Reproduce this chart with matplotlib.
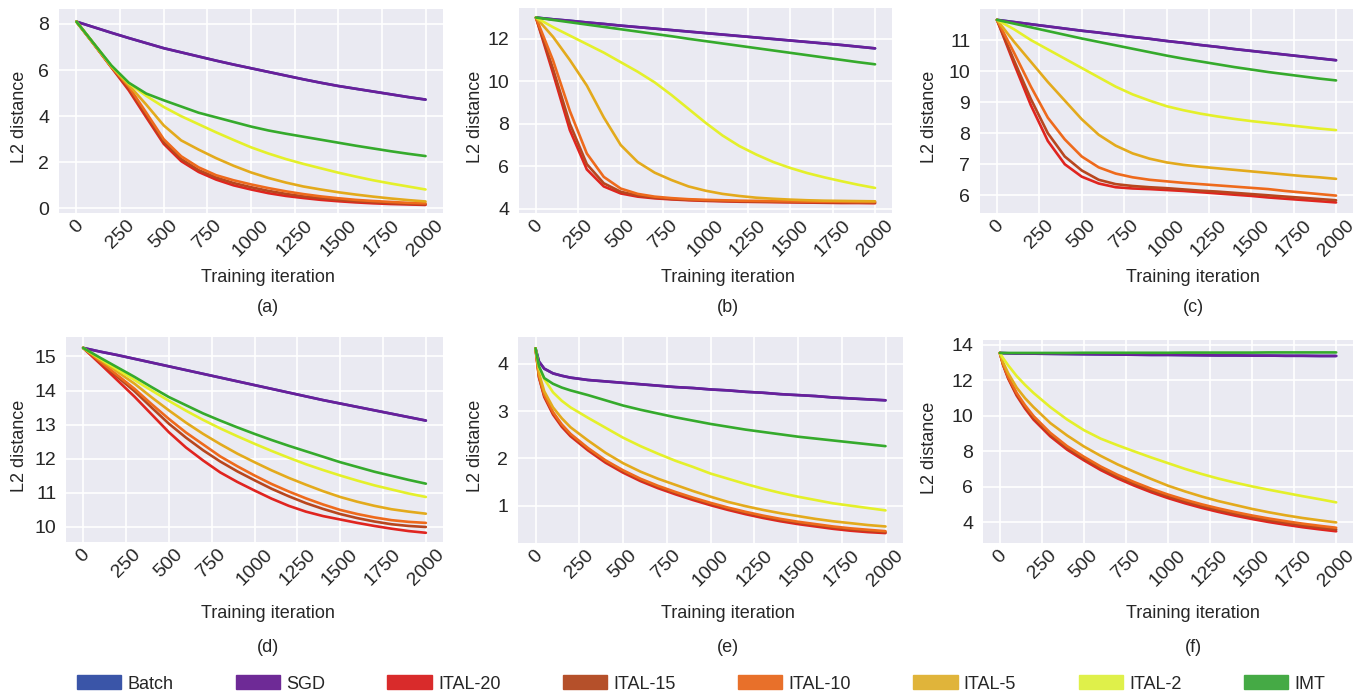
import matplotlib
matplotlib.use("Agg")
import matplotlib.pyplot as plt
from matplotlib.patches import Patch

# iteration grids (coarse for smooth panels, denser start for the fast-dropping ones)
iters = [0, 100, 200, 300, 400, 500, 600, 700, 800, 900, 1000,
         1100, 1200, 1300, 1400, 1500, 1600, 1700, 1800, 1900, 2000]
iters_fast = [0, 20, 50, 100, 150, 200, 300, 400, 500, 600, 700, 800,
              900, 1000, 1100, 1200, 1300, 1400, 1500, 1600, 1700, 1800, 1900, 2000]

labels = ["Batch", "SGD", "ITAL-20", "ITAL-15", "ITAL-10", "ITAL-5", "ITAL-2", "IMT"]
line_colors = ["#3a55a8", "#6a1f9a", "#e0241f", "#b8461e", "#ee6a1c", "#e3aa1c", "#e4f02a", "#35aa2c"]
legend_colors = ["#3a55a8", "#6e2a96", "#d92b2b", "#b5502a", "#e8702a", "#e0b43a", "#dff04a", "#45aa45"]

# (a)
a_sgd = [8.10, 7.86, 7.62, 7.39, 7.17, 6.95, 6.77, 6.59, 6.41, 6.24, 6.08,
         5.92, 5.76, 5.60, 5.45, 5.31, 5.19, 5.07, 4.95, 4.83, 4.72]
a_i20 = [8.10, 7.12, 6.12, 5.12, 3.95, 2.80, 2.05, 1.58, 1.25, 1.00, 0.82,
         0.66, 0.54, 0.45, 0.37, 0.31, 0.26, 0.22, 0.19, 0.17, 0.15]
a_i15 = [8.10, 7.12, 6.13, 5.20, 4.05, 2.88, 2.14, 1.66, 1.34, 1.10, 0.92,
         0.76, 0.63, 0.52, 0.44, 0.37, 0.31, 0.27, 0.23, 0.20, 0.18]
a_i10 = [8.10, 7.13, 6.14, 5.28, 4.15, 3.00, 2.26, 1.78, 1.44, 1.22, 1.04,
         0.88, 0.74, 0.62, 0.52, 0.44, 0.37, 0.32, 0.28, 0.24, 0.22]
a_i5 = [8.10, 7.13, 6.16, 5.35, 4.50, 3.60, 2.95, 2.55, 2.18, 1.85, 1.56,
        1.32, 1.12, 0.95, 0.82, 0.70, 0.60, 0.51, 0.43, 0.36, 0.30]
a_i2 = [8.10, 7.14, 6.18, 5.42, 4.88, 4.40, 4.00, 3.65, 3.30, 2.97, 2.65,
        2.38, 2.14, 1.93, 1.74, 1.55, 1.38, 1.22, 1.08, 0.95, 0.82]
a_imt = [8.10, 7.15, 6.20, 5.45, 4.98, 4.69, 4.42, 4.15, 3.95, 3.75, 3.55,
         3.38, 3.24, 3.11, 2.98, 2.85, 2.72, 2.60, 2.48, 2.37, 2.27]

# (b)
b_sgd = [13.00, 12.92, 12.85, 12.77, 12.70, 12.62, 12.55, 12.48, 12.41, 12.34, 12.27,
         12.20, 12.13, 12.06, 11.99, 11.92, 11.85, 11.78, 11.71, 11.63, 11.55]
b_i20 = [13.00, 10.40, 7.70, 5.85, 5.05, 4.72, 4.57, 4.49, 4.44, 4.40, 4.37,
         4.35, 4.33, 4.32, 4.31, 4.30, 4.29, 4.28, 4.27, 4.27, 4.26]
b_i15 = [13.00, 10.60, 8.00, 6.10, 5.20, 4.80, 4.62, 4.52, 4.46, 4.42, 4.39,
         4.37, 4.35, 4.34, 4.33, 4.32, 4.31, 4.30, 4.30, 4.29, 4.29]
b_i10 = [13.00, 11.00, 8.60, 6.60, 5.50, 4.95, 4.70, 4.57, 4.50, 4.45, 4.42,
         4.40, 4.38, 4.37, 4.36, 4.35, 4.34, 4.33, 4.33, 4.32, 4.32]
b_i5 = [13.00, 12.10, 11.00, 9.80, 8.30, 7.00, 6.20, 5.70, 5.35, 5.05, 4.85,
        4.70, 4.60, 4.52, 4.47, 4.43, 4.40, 4.38, 4.37, 4.36, 4.35]
b_i2 = [13.00, 12.55, 12.15, 11.75, 11.35, 10.90, 10.45, 9.95, 9.35, 8.70, 8.05,
        7.45, 6.95, 6.55, 6.20, 5.92, 5.68, 5.48, 5.30, 5.13, 4.98]
b_imt = [13.00, 12.89, 12.78, 12.67, 12.56, 12.45, 12.34, 12.23, 12.12, 12.00, 11.89,
         11.78, 11.67, 11.56, 11.45, 11.34, 11.23, 11.12, 11.01, 10.90, 10.80]

# (c)
c_sgd = [11.65, 11.58, 11.51, 11.44, 11.37, 11.30, 11.24, 11.17, 11.10, 11.04, 10.97,
         10.91, 10.84, 10.78, 10.71, 10.65, 10.59, 10.53, 10.47, 10.41, 10.35]
c_i20 = [11.65, 10.25, 8.90, 7.75, 7.00, 6.60, 6.38, 6.26, 6.22, 6.20, 6.17,
         6.14, 6.10, 6.06, 6.02, 5.98, 5.93, 5.89, 5.85, 5.81, 5.77]
c_i15 = [11.65, 10.35, 9.10, 8.00, 7.25, 6.80, 6.50, 6.36, 6.30, 6.26, 6.23,
         6.19, 6.15, 6.12, 6.08, 6.04, 6.00, 5.96, 5.92, 5.88, 5.84]
c_i10 = [11.65, 10.60, 9.50, 8.50, 7.80, 7.25, 6.90, 6.70, 6.58, 6.50, 6.45,
         6.40, 6.36, 6.32, 6.28, 6.24, 6.20, 6.14, 6.09, 6.04, 5.99]
c_i5 = [11.65, 10.95, 10.30, 9.65, 9.05, 8.45, 7.95, 7.60, 7.35, 7.18, 7.06,
        6.98, 6.92, 6.87, 6.82, 6.77, 6.72, 6.67, 6.62, 6.58, 6.53]
c_i2 = [11.65, 11.35, 11.00, 10.70, 10.40, 10.10, 9.80, 9.50, 9.25, 9.05, 8.87,
        8.74, 8.63, 8.54, 8.46, 8.39, 8.33, 8.27, 8.21, 8.15, 8.10]
c_imt = [11.65, 11.53, 11.41, 11.29, 11.17, 11.05, 10.94, 10.83, 10.72, 10.61, 10.50,
         10.40, 10.31, 10.22, 10.13, 10.05, 9.97, 9.90, 9.83, 9.76, 9.70]

# (d)
d_sgd = [15.25, 15.14, 15.04, 14.93, 14.82, 14.71, 14.60, 14.49, 14.38, 14.27, 14.16,
         14.05, 13.94, 13.83, 13.72, 13.62, 13.52, 13.42, 13.32, 13.22, 13.12]
d_i20 = [15.25, 14.78, 14.30, 13.82, 13.30, 12.78, 12.33, 11.95, 11.60, 11.32, 11.07,
         10.83, 10.62, 10.45, 10.32, 10.22, 10.12, 10.03, 9.95, 9.88, 9.83]
d_i15 = [15.25, 14.83, 14.40, 13.98, 13.50, 13.03, 12.62, 12.25, 11.92, 11.63, 11.37,
         11.12, 10.90, 10.70, 10.53, 10.38, 10.26, 10.16, 10.08, 10.03, 10.00]
d_i10 = [15.25, 14.85, 14.45, 14.05, 13.60, 13.17, 12.77, 12.42, 12.07, 11.78, 11.51,
         11.26, 11.04, 10.84, 10.66, 10.50, 10.38, 10.28, 10.20, 10.15, 10.12]
d_i5 = [15.25, 14.90, 14.55, 14.20, 13.80, 13.42, 13.06, 12.73, 12.43, 12.15, 11.90,
        11.66, 11.44, 11.24, 11.05, 10.88, 10.74, 10.62, 10.52, 10.45, 10.39]
d_i2 = [15.25, 14.93, 14.62, 14.31, 14.00, 13.70, 13.41, 13.14, 12.89, 12.66, 12.44,
        12.23, 12.03, 11.84, 11.67, 11.51, 11.36, 11.22, 11.10, 10.98, 10.88]
d_imt = [15.25, 14.96, 14.68, 14.40, 14.10, 13.81, 13.57, 13.33, 13.12, 12.92, 12.73,
         12.55, 12.38, 12.22, 12.06, 11.90, 11.76, 11.62, 11.50, 11.38, 11.27]

# (e)  -- on iters_fast
e_sgd = [4.33, 4.05, 3.90, 3.80, 3.75, 3.71, 3.66, 3.63, 3.60, 3.57, 3.54, 3.51,
         3.49, 3.46, 3.44, 3.41, 3.39, 3.36, 3.34, 3.32, 3.29, 3.27, 3.25, 3.23]
e_i20 = [4.33, 3.71, 3.30, 2.93, 2.67, 2.47, 2.17, 1.91, 1.70, 1.52, 1.37, 1.24,
         1.12, 1.01, 0.91, 0.82, 0.74, 0.67, 0.61, 0.56, 0.51, 0.47, 0.44, 0.42]
e_i15 = [4.33, 3.73, 3.33, 2.96, 2.70, 2.50, 2.20, 1.94, 1.73, 1.55, 1.40, 1.27,
         1.15, 1.04, 0.94, 0.85, 0.77, 0.70, 0.64, 0.59, 0.54, 0.50, 0.47, 0.44]
e_i10 = [4.33, 3.75, 3.35, 2.98, 2.72, 2.52, 2.22, 1.96, 1.75, 1.57, 1.42, 1.29,
         1.17, 1.06, 0.96, 0.87, 0.79, 0.72, 0.66, 0.61, 0.56, 0.52, 0.49, 0.46]
e_i5 = [4.33, 3.80, 3.42, 3.08, 2.85, 2.66, 2.38, 2.12, 1.90, 1.72, 1.57, 1.44,
        1.31, 1.19, 1.08, 0.99, 0.91, 0.84, 0.78, 0.72, 0.67, 0.63, 0.59, 0.56]
e_i2 = [4.33, 3.92, 3.68, 3.40, 3.22, 3.08, 2.86, 2.65, 2.44, 2.26, 2.10, 1.95,
        1.82, 1.68, 1.57, 1.46, 1.36, 1.27, 1.19, 1.12, 1.05, 1.00, 0.95, 0.90]
e_imt = [4.33, 3.95, 3.70, 3.58, 3.50, 3.44, 3.34, 3.23, 3.12, 3.03, 2.95, 2.87,
         2.80, 2.73, 2.67, 2.61, 2.56, 2.51, 2.46, 2.42, 2.38, 2.34, 2.30, 2.26]

# (f)  -- on iters_fast
f_sgd = [13.55, 13.54, 13.53, 13.52, 13.52, 13.51, 13.50, 13.49, 13.48, 13.47, 13.46, 13.45,
         13.44, 13.44, 13.43, 13.42, 13.41, 13.41, 13.40, 13.40, 13.39, 13.39, 13.38, 13.38]
f_i20 = [13.55, 12.86, 12.10, 11.15, 10.42, 9.80, 8.85, 8.10, 7.50, 6.95, 6.48, 6.07,
         5.70, 5.37, 5.08, 4.82, 4.59, 4.38, 4.19, 4.02, 3.87, 3.73, 3.61, 3.50]
f_i15 = [13.55, 12.88, 12.15, 11.22, 10.50, 9.90, 8.95, 8.20, 7.60, 7.05, 6.58, 6.17,
         5.80, 5.47, 5.18, 4.92, 4.69, 4.48, 4.29, 4.12, 3.97, 3.83, 3.71, 3.60]
f_i10 = [13.55, 12.90, 12.20, 11.30, 10.60, 10.00, 9.05, 8.30, 7.70, 7.15, 6.68, 6.27,
         5.90, 5.57, 5.28, 5.02, 4.79, 4.58, 4.39, 4.22, 4.07, 3.93, 3.81, 3.70]
f_i5 = [13.55, 13.00, 12.40, 11.60, 11.00, 10.50, 9.60, 8.90, 8.28, 7.75, 7.27, 6.85,
        6.45, 6.07, 5.75, 5.46, 5.20, 4.98, 4.76, 4.57, 4.40, 4.25, 4.12, 4.00]
f_i2 = [13.55, 13.25, 12.85, 12.25, 11.75, 11.30, 10.50, 9.80, 9.20, 8.72, 8.35, 8.00,
        7.66, 7.34, 7.02, 6.73, 6.47, 6.24, 6.03, 5.84, 5.66, 5.48, 5.31, 5.13]
f_imt = [13.55, 13.55, 13.55, 13.55, 13.55, 13.55, 13.55, 13.55, 13.56, 13.56, 13.56, 13.56,
         13.56, 13.56, 13.57, 13.57, 13.57, 13.57, 13.57, 13.58, 13.58, 13.58, 13.58, 13.58]

# Batch and SGD curves coincide in every panel
panels = [
    ("(a)", iters, [a_sgd, a_sgd, a_i20, a_i15, a_i10, a_i5, a_i2, a_imt], (-0.2, 8.65), [0, 2, 4, 6, 8]),
    ("(b)", iters, [b_sgd, b_sgd, b_i20, b_i15, b_i10, b_i5, b_i2, b_imt], (3.8, 13.45), [4, 6, 8, 10, 12]),
    ("(c)", iters, [c_sgd, c_sgd, c_i20, c_i15, c_i10, c_i5, c_i2, c_imt], (5.43, 12.0), [6, 7, 8, 9, 10, 11]),
    ("(d)", iters, [d_sgd, d_sgd, d_i20, d_i15, d_i10, d_i5, d_i2, d_imt], (9.56, 15.57), [10, 11, 12, 13, 14, 15]),
    ("(e)", iters_fast, [e_sgd, e_sgd, e_i20, e_i15, e_i10, e_i5, e_i2, e_imt], (0.21, 4.57), [1, 2, 3, 4]),
    ("(f)", iters_fast, [f_sgd, f_sgd, f_i20, f_i15, f_i10, f_i5, f_i2, f_imt], (2.84, 14.28), [4, 6, 8, 10, 12, 14]),
]

# axes boxes in pixels: left, top, right, bottom; plus label anchors
W, H = 1361, 696
boxes = [(59, 9, 443, 213), (519, 8, 892, 213), (980, 9, 1353, 213),
         (66, 337, 443, 542), (518, 337, 903, 543), (983, 340, 1353, 543)]
ylabel_x = [20, 476, 930, 20, 476, 930]
xlabel_x = [268, 728, 1193, 268, 728, 1193]

plt.rcParams["font.family"] = ["Liberation Sans", "DejaVu Sans"]
plt.rcParams["text.color"] = "#262626"

fig = plt.figure(figsize=(W / 100, H / 100), dpi=100)

for i, (tag, xs, series, ylim, yticks) in enumerate(panels):
    l, t, r, b = boxes[i]
    ax = fig.add_axes([l / W, 1 - b / H, (r - l) / W, (b - t) / H])
    ax.set_facecolor("#eaeaf2")
    for s in ax.spines.values():
        s.set_visible(False)
    ax.grid(True, color="white", linewidth=1.2)
    ax.set_axisbelow(True)
    for ys, c in zip(series, line_colors):
        ax.plot(xs, ys, color=c, linewidth=1.9, solid_capstyle="round")
    ax.set_xlim(-100, 2100)
    ax.set_ylim(*ylim)
    ax.set_xticks(range(0, 2001, 250))
    ax.set_yticks(yticks)
    ax.tick_params(length=0, labelsize=14, labelcolor="#262626")
    ax.tick_params(axis="y", pad=7)
    ax.tick_params(axis="x", pad=3)
    plt.setp(ax.get_xticklabels(), rotation=45)

    top_row = i < 3
    fig.text(ylabel_x[i] / W, 1 - ((t + b) / 2 + 6) / H, "L2 distance",
             rotation=90, ha="center", va="center", fontsize=13)
    xl_y = 277 if top_row else 614
    tag_y = 308 if top_row else 648
    fig.text(xlabel_x[i] / W, 1 - xl_y / H, "Training iteration",
             ha="center", va="center", fontsize=13)
    fig.text(xlabel_x[i] / W, 1 - tag_y / H, tag, ha="center", va="center", fontsize=13)

handles = [Patch(facecolor=c, edgecolor=c) for c in legend_colors]
fig.legend(handles, labels, loc="center", bbox_to_anchor=(0.515, 1 - 684 / H), ncol=8,
           frameon=False, fontsize=13, handlelength=2.45, handleheight=0.8,
           handletextpad=0.35, columnspacing=3.45)

fig.savefig("out.png", dpi=100)
